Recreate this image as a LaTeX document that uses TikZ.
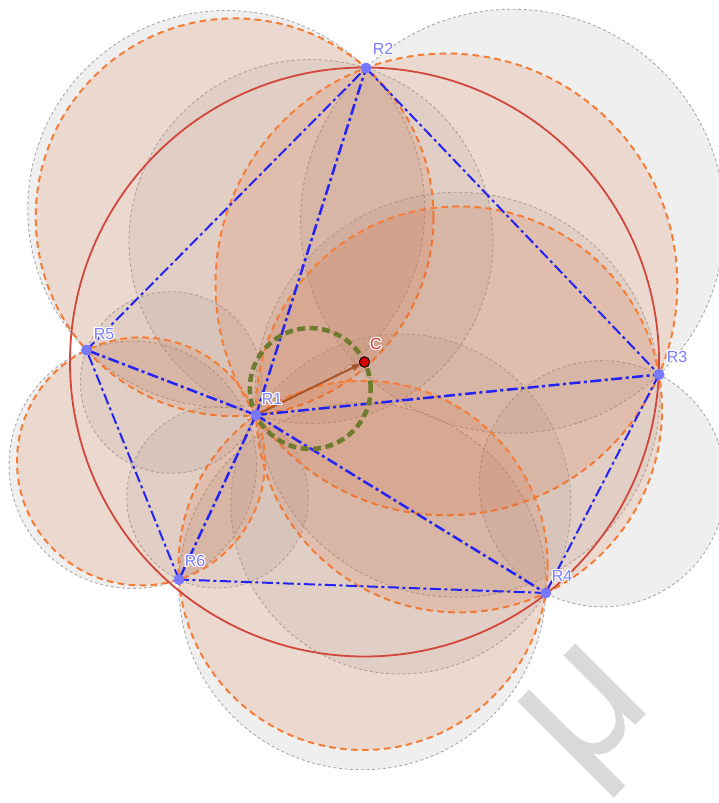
\documentclass[tikz,border=0pt]{standalone}
\usepackage{fontspec}
\setmainfont{Liberation Sans}
\usetikzlibrary{arrows.meta,calc}
\definecolor{blueline}{RGB}{35,35,245}
\definecolor{ptblue}{RGB}{120,120,255}
\definecolor{lblblue}{RGB}{125,125,255}
\definecolor{redcirc}{RGB}{210,70,60}
\definecolor{cred}{RGB}{215,0,0}
\definecolor{clabel}{RGB}{225,50,50}
\definecolor{greenc}{RGB}{110,122,45}
\definecolor{vecbrown}{RGB}{170,85,40}
\definecolor{orline}{RGB}{245,125,55}
\definecolor{orfill}{RGB}{220,105,50}
\definecolor{grayline}{RGB}{170,170,170}
\definecolor{grayfill}{RGB}{153,153,153}
\definecolor{mugray}{RGB}{217,217,217}
\newcommand\halolabel[4]{%
  \foreach \hx/\hy in {-1.3/0,1.3/0,0/-1.3,0/1.3,-0.9/-0.9,0.9/0.9,-0.9/0.9,0.9/-0.9}{%
    \node[lbl,text=white] at ([shift={(\hx pt,\hy pt)}]#2) {#4};}%
  \node[lbl,text=#3] (#1) at (#2) {#4};}
\begin{document}
\begin{tikzpicture}[x=1pt,y=-1pt,
  graycirc/.style={draw=grayline, line width=0.9pt, dash pattern=on 3pt off 2.5pt, fill=grayfill, fill opacity=0.15},
  orcirc/.style={draw=orline, line width=2pt, dash pattern=on 6.5pt off 4.5pt, fill=orfill, fill opacity=0.16},
  outeredge/.style={draw=blueline, line width=2pt, dash pattern=on 11pt off 3.5pt on 3pt off 3.5pt},
  inneredge/.style={draw=blueline, line width=2.5pt, dash pattern=on 11pt off 3.5pt on 3pt off 3.5pt},
  enclosing/.style={draw=redcirc, line width=1.8pt},
  greencirc/.style={draw=greenc, line width=4.5pt, dash pattern=on 8pt off 4.5pt},
  vec/.style={draw=vecbrown, line width=2pt, -{Triangle[length=9pt,width=6.5pt]}, shorten >=4pt},
  rpt/.style={circle, fill=ptblue, inner sep=0pt, minimum size=11pt},
  cpt/.style={circle, fill=cred, draw=black, line width=0.9pt, inner sep=0pt, minimum size=10.5pt},
  lbl/.style={font=\fontsize{16}{16}\selectfont, inner sep=0pt, anchor=center},
  mu/.style={font=\fontsize{189}{189}\selectfont, text=mugray, inner sep=0pt, rotate=45}]
\useasboundingbox (0,0) rectangle (718,803);
\fill[white] (0,0) rectangle (718,803);

% watermark
\node[mu] (muglyph) at (596,721) {μ};

% points
\coordinate (r1) at (256,415);
\coordinate (r2) at (366,68);
\coordinate (r3) at (659,374.5);
\coordinate (r4) at (545.7,593);
\coordinate (r5) at (86.5,350);
\coordinate (r6) at (179,579.5);
\coordinate (c) at (364.5,362);

% gray circles (diameters on the triangulation edges)
\path[graycirc] (226.25,209) circle[radius=198.5pt];
\path[graycirc] (512.5,221.25) circle[radius=212pt];
\path[graycirc] (602.35,483.75) circle[radius=123.1pt];
\path[graycirc] (362.35,586.25) circle[radius=183.5pt];
\path[graycirc] (132.75,464.75) circle[radius=123.7pt];
\path[graycirc] (311,241.5) circle[radius=182pt];
\path[graycirc] (457.5,394.75) circle[radius=202.5pt];
\path[graycirc] (400.85,504) circle[radius=170pt];
\path[graycirc] (171.25,382.5) circle[radius=90.8pt];
\path[graycirc] (217.5,497.25) circle[radius=90.8pt];

% orange circumcircles of the fan triangles
\path[orcirc] (234.6,217.3) circle[radius=198.9pt];
\path[orcirc] (446.4,284.4) circle[radius=230.9pt];
\path[orcirc] (459.0,409.4) circle[radius=203.0pt];
\path[orcirc] (363.1,565.4) circle[radius=184.6pt];
\path[orcirc] (141.0,461.4) circle[radius=124.0pt];

% enclosing circle
\draw[enclosing] (c) circle[radius=294.5pt];

% triangulation
\draw[outeredge] (r2) -- (r3);
\draw[outeredge] (r3) -- (r4);
\draw[outeredge] (r4) -- (r6);
\draw[outeredge] (r6) -- (r5);
\draw[outeredge] (r5) -- (r2);
\draw[inneredge] (r1) -- (r2);
\draw[inneredge] (r1) -- (r3);
\draw[inneredge] (r1) -- (r4);
\draw[inneredge] (r1) -- (r5);
\draw[inneredge] (r1) -- (r6);

% green circle on R1C
\draw[greencirc] ($(r1)!0.5!(c)$) circle[radius=60.4pt];

% vector R1 -> C
\draw[vec] (r1) -- (c);

% point markers
\node[rpt] (R1) at (r1) {};
\node[rpt] (R2) at (r2) {};
\node[rpt] (R3) at (r3) {};
\node[rpt] (R4) at (r4) {};
\node[rpt] (R5) at (r5) {};
\node[rpt] (R6) at (r6) {};
\node[cpt] (C) at (c) {};

% labels with white halo
\halolabel{lR1}{272,399}{lblblue}{R1}
\halolabel{lR2}{383,49}{lblblue}{R2}
\halolabel{lR3}{677,357}{lblblue}{R3}
\halolabel{lR4}{562,576}{lblblue}{R4}
\halolabel{lR5}{104,334}{lblblue}{R5}
\halolabel{lR6}{195,561}{lblblue}{R6}
\halolabel{lC}{376,344}{clabel}{C}
\end{tikzpicture}
\end{document}
